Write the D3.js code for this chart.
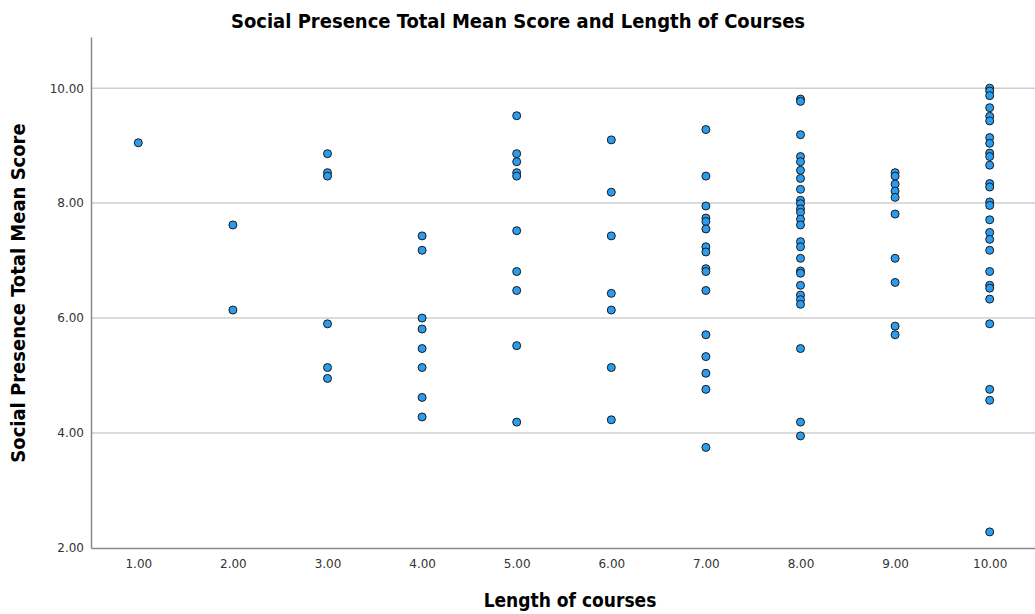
<!DOCTYPE html>
<html>
<head>
<meta charset="utf-8">
<script src="https://cdn.jsdelivr.net/npm/d3@7"></script>
<style>
  body { margin: 0; background: #fff; }
  text { font-family: "DejaVu Sans Condensed", "DejaVu Sans", sans-serif; }
  .tick text { font-family: "DejaVu Sans", sans-serif; }
</style>
</head>
<body>
<div id="chart"></div>
<script>
// scores, one list per course length
var len1 = [9.05]
var len2 = [7.62, 6.14]
var len3 = [8.86, 8.53, 8.47, 5.90, 5.14, 4.95]
var len4 = [7.43, 7.18, 6.00, 5.81, 5.47, 5.14, 4.62, 4.28]
var len5 = [9.52, 8.86, 8.72, 8.53, 8.47, 7.52, 6.81, 6.48, 5.52, 4.19]
var len6 = [9.10, 8.19, 7.43, 6.43, 6.14, 5.14, 4.23]
var len7 = [9.28, 8.47, 7.95, 7.74, 7.68, 7.55, 7.24, 7.15, 6.86, 6.81, 6.48, 5.71, 5.33, 5.04, 4.76, 3.75]
var len8 = [9.81, 9.77, 9.19, 8.81, 8.72, 8.57, 8.43, 8.24, 8.05, 7.99, 7.90, 7.84, 7.72, 7.62,
            7.33, 7.24, 7.04, 6.82, 6.78, 6.57, 6.40, 6.32, 6.24, 5.47, 4.19, 3.95]
var len9 = [8.53, 8.47, 8.33, 8.21, 8.10, 7.81, 7.04, 6.62, 5.86, 5.71]
var len10 = [10.00, 9.95, 9.87, 9.66, 9.51, 9.43, 9.14, 9.04, 8.87, 8.81, 8.66, 8.34, 8.28, 8.02,
             7.96, 7.71, 7.49, 7.37, 7.18, 6.81, 6.57, 6.52, 6.33, 5.90, 4.76, 4.57, 2.28]

var xTicks = [1, 2, 3, 4, 5, 6, 7, 8, 9, 10]
var yTicks = [2, 4, 6, 8, 10]

var groups = [len1, len2, len3, len4, len5, len6, len7, len8, len9, len10]
var points = []
groups.forEach((g, i) => {
    g.forEach(v => points.push({ len: i + 1, score: v }))
})

var svgSize = { width: 1035, height: 614 }
var margin = { top: 37, bottom: 66, left: 91, right: -2 }

var chartSize = {
    width: svgSize.width - margin.left - margin.right,
    height: svgSize.height - margin.top - margin.bottom
}

var svg = d3.select("#chart").append("svg")
            .attr("width", svgSize.width)
            .attr("height", svgSize.height)

var frame = svg.append("g")
               .attr("transform", `translate(${margin.left}, ${margin.top})`)

var xScale = d3.scaleLinear()
               .domain([0.5, 10.5])
               .range([0, chartSize.width])

var yScale = d3.scaleLinear()
               .domain([2, 10.89])
               .range([chartSize.height, 0])

// gridlines
frame.append("g").selectAll("line").data(yTicks.filter(t => t > 2))
     .enter().append("line")
     .attr("x1", 0).attr("x2", chartSize.width)
     .attr("y1", d => yScale(d)).attr("y2", d => yScale(d))
     .attr("stroke", "#cfcfcf")
     .attr("stroke-width", 1.5)

var bottomAxis = d3.axisBottom(xScale).tickValues(xTicks)
                   .tickFormat(d3.format(".2f")).tickSize(0).tickPadding(11)
var leftAxis = d3.axisLeft(yScale).tickValues(yTicks)
                 .tickFormat(d3.format(".2f")).tickSize(0).tickPadding(7)

var xAxisG = frame.append("g").attr("transform", `translate(0, ${chartSize.height})`)
                  .call(bottomAxis)
var yAxisG = frame.append("g").call(leftAxis)

;[xAxisG, yAxisG].forEach(g => {
    g.select(".domain").attr("stroke", "#8a8a8a").attr("stroke-width", 1.5)
    g.selectAll("text").style("font-size", "12px").attr("fill", "#333")
})

// points
frame.append("g").selectAll("circle").data(points)
     .enter().append("circle")
     .attr("r", 4)
     .attr("cx", d => xScale(d.len))
     .attr("cy", d => yScale(d.score))
     .attr("fill", "#2a9df0")
     .attr("stroke", "#1a1a1a")
     .attr("stroke-width", 1)

// titles
svg.append("text")
   .attr("x", 518).attr("y", 28)
   .attr("text-anchor", "middle")
   .attr("font-size", 20).attr("font-weight", "bold")
   .text("Social Presence Total Mean Score and Length of Courses")

svg.append("text")
   .attr("x", 570).attr("y", 607)
   .attr("text-anchor", "middle")
   .attr("font-size", 19).attr("font-weight", "bold")
   .text("Length of courses")

svg.append("text")
   .attr("transform", "translate(25, 293) rotate(-90)")
   .attr("text-anchor", "middle")
   .attr("font-size", 20).attr("font-weight", "bold")
   .text("Social Presence Total Mean Score")
</script>
</body>
</html>
